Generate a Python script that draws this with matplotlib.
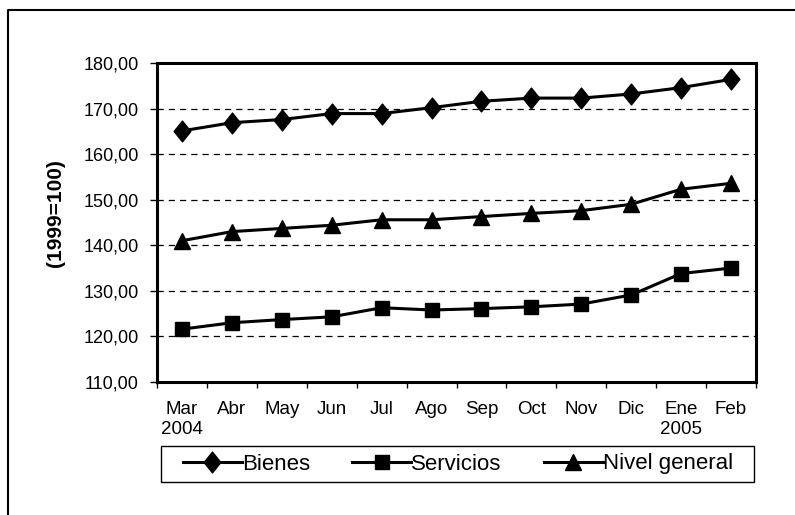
import matplotlib
matplotlib.use("Agg")
import matplotlib.pyplot as plt
from matplotlib.path import Path
from matplotlib.lines import Line2D
from matplotlib.patches import Rectangle
import numpy as np

months = ["Mar\n2004", "Abr", "May", "Jun", "Jul", "Ago", "Sep", "Oct", "Nov", "Dic", "Ene\n2005", "Feb"]
bienes = [165.1, 166.9, 167.6, 168.9, 168.9, 170.2, 171.6, 172.3, 172.3, 173.2, 174.6, 176.4]
servicios = [121.6, 123.0, 123.7, 124.3, 126.3, 125.8, 126.1, 126.5, 127.1, 129.1, 133.8, 135.0]
nivel_general = [141.0, 143.0, 143.7, 144.4, 145.6, 145.6, 146.3, 147.0, 147.6, 149.0, 152.3, 153.6]
series_names = ["Bienes", "Servicios", "Nivel general"]
y_ticks = [110, 120, 130, 140, 150, 160, 170, 180]
y_label = "(1999=100)"

plt.rcParams["font.family"] = ["Liberation Sans", "DejaVu Sans"]

W, H = 795, 515
fig = plt.figure(figsize=(W / 100, H / 100), dpi=100)
ax = fig.add_axes([157 / W, 1 - 382 / H, (756 - 157) / W, (382 - 63) / H])

x = np.arange(len(months))
diamond = Path([(0, -0.5), (0.4, 0), (0, 0.5), (-0.4, 0), (0, -0.5)],
               [Path.MOVETO, Path.LINETO, Path.LINETO, Path.LINETO, Path.CLOSEPOLY])

lw = 2.2
ax.plot(x, bienes, color="black", lw=lw, marker=diamond, ms=15, label=series_names[0], zorder=3)
ax.plot(x, servicios, color="black", lw=lw, marker="s", ms=9.5, label=series_names[1], zorder=3)
ax.plot(x, nivel_general, color="black", lw=lw, marker="^", ms=11, label=series_names[2], zorder=3)

ax.set_xlim(-0.5, len(months) - 0.5)
ax.set_ylim(110, 180)
ax.set_yticks(y_ticks)
ax.set_yticklabels([f"{v:.2f}".replace(".", ",") for v in y_ticks])
ax.set_xticks(x)
ax.set_xticklabels(months)
ax.set_xticks(np.arange(-0.5, len(months), 1.0), minor=True)
ax.tick_params(axis="x", which="major", length=0, pad=14, labelsize=13.5)
ax.tick_params(axis="x", which="minor", length=4, width=1, direction="out")
ax.tick_params(axis="y", which="major", length=5, width=1, direction="out", pad=8, labelsize=13)

for yv in y_ticks[1:]:
    ax.axhline(yv, color="black", lw=0.9, ls=(0, (5, 4)), zorder=1)

for s in ax.spines.values():
    s.set_linewidth(2.2)
    s.set_color("black")

fig.text(55 / W, 1 - 213 / H, y_label, rotation=90, ha="center", va="center",
         fontsize=15, fontweight="bold")

# legend box
fig.add_artist(Rectangle((161 / W, 1 - 482 / H), (754 - 161) / W, 36 / H,
                         transform=fig.transFigure, fill=False, edgecolor="black", lw=1.0))
leg = fig.legend(loc="center left", bbox_to_anchor=(183 / W, 1 - 464 / H), ncol=3,
                 frameon=False, fontsize=16, handlelength=2.65, handletextpad=0.0,
                 borderpad=0, borderaxespad=0, columnspacing=1.9)

# outer chart border
fig.add_artist(Line2D([8 / W, 8 / W, 1.0], [0.0, 1 - 10 / H, 1 - 10 / H],
                      transform=fig.transFigure, color="black", lw=1.5))

fig.savefig("out.png", dpi=100)
